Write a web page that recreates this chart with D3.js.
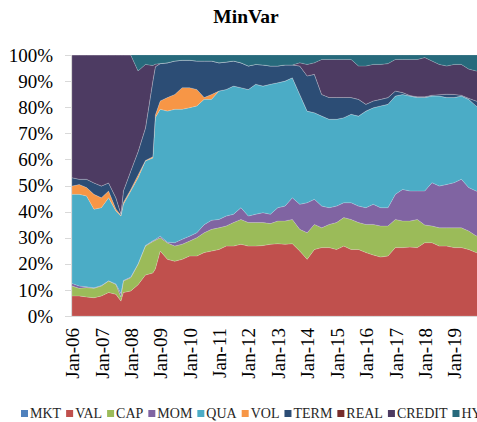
<!DOCTYPE html>
<html>
<head>
<meta charset="utf-8">
<script src="https://cdn.jsdelivr.net/npm/d3@7"></script>
<style>
  body { margin: 0; background: #fff; }
  svg { display: block; font-family: "Liberation Serif", "Times New Roman", serif; }
</style>
</head>
<body>
<div id="chart"></div>
<script>
// Data (quarterly readings, plus a few extra months at sharp moves)
const dates = [
    '2006-01','2006-04','2006-07','2006-10','2007-01','2007-04','2007-07','2007-09','2007-10',
    '2008-01','2008-04','2008-07','2008-10','2008-11','2009-01','2009-04','2009-07','2009-10',
    '2010-01','2010-04','2010-07','2010-10','2011-01','2011-04','2011-07','2011-10',
    '2012-01','2012-04','2012-07','2012-10','2013-01','2013-04','2013-07','2013-10',
    '2014-01','2014-04','2014-07','2014-10','2015-01','2015-04','2015-07','2015-10',
    '2016-01','2016-04','2016-07','2016-10','2017-01','2017-04','2017-07','2017-10',
    '2018-01','2018-04','2018-07','2018-10','2019-01','2019-04','2019-07','2019-10','2019-12'
];
const series_names = ['MKT', 'VAL', 'CAP', 'MOM', 'QUA', 'VOL', 'TERM', 'REAL', 'CREDIT', 'HY'];
const y_ticks = [0, 0.1, 0.2, 0.3, 0.4, 0.5, 0.6, 0.7, 0.8, 0.9, 1];
const x_tick_years = [2006, 2007, 2008, 2009, 2010, 2011, 2012, 2013, 2014, 2015, 2016, 2017, 2018, 2019];

const mkt = [0,0,0,0,0,0,0,0,0,0,0,0,0,0,0,0,0,0,0,0,0,0,0,0,0,0,0,0,0,0,
             0,0,0,0,0,0,0,0,0,0,0,0,0,0,0,0,0,0,0,0,0,0,0,0,0,0,0,0,0];
const val = [7.7,7.7,7.3,7.0,7.7,9.0,8.3,5.7,9.0,9.6,12.0,15.7,16.5,18.0,24.9,21.7,21.0,21.7,23.0,23.0,24.3,24.9,
             25.5,26.8,26.8,27.5,26.8,26.8,27.0,27.5,27.7,27.5,27.7,24.9,21.7,25.5,26.2,26.2,25.5,26.8,
             25.5,25.5,24.3,23.4,22.6,23.0,26.2,26.2,26.4,26.2,28.1,28.1,26.8,26.8,26.2,26.2,25.5,24.3,24.0];
const cap = [3.8,2.9,3.6,3.6,3.8,4.4,3.8,1.6,4.4,5.1,7.8,11.1,12.0,11.0,5.1,6.3,5.8,5.8,5.7,7.0,7.6,8.3,
             8.3,7.7,9.0,9.5,9.0,9.0,8.8,7.9,8.7,8.9,9.3,8.3,10.2,9.6,7.6,8.9,10.3,10.9,
             11.5,10.3,10.8,11.7,11.9,11.5,10.8,10.2,10.0,10.8,6.8,6.4,7.0,7.0,7.6,7.6,7.1,6.4,6.5];
const mom = [1.0,0.9,0.3,0.2,0.2,0.1,0.2,1.3,0.2,0.2,0.2,0.2,0.3,0.3,0.6,0.3,1.3,1.9,1.9,1.9,3.1,3.5,
             3.2,3.8,3.2,4.5,2.5,3.2,3.8,3.6,5.1,5.7,8.3,9.6,11.5,9.6,8.3,6.4,6.3,5.7,
             6.4,6.3,6.4,7.7,7.0,7.0,9.6,12.1,11.5,10.9,13.0,16.6,16.0,16.6,17.3,18.6,16.6,17.2,17.0];
const qua = [34.1,35.1,34.8,30.1,29.8,31.8,27.9,29.7,29.2,33.0,33.0,32.4,31.7,46.7,48.6,50.2,51.1,49.8,49.2,48.6,48.0,46.3,
             49.2,48.5,49.1,46.0,48.5,49.8,48.5,49.8,47.9,47.9,46.0,42.1,35.1,33.2,34.5,33.9,33.3,32.6,
             33.9,34.5,37.0,37.0,39.0,39.6,37.7,36.4,36.4,35.8,35.8,33.2,34.5,33.3,32.6,31.9,33.8,32.6,32.5];
const vol = [3.2,3.8,3.2,5.7,3.8,2.6,0.8,0.3,0.7,0.6,1.0,0.2,0.5,1.0,3.2,5.2,5.7,8.3,7.7,6.3,0.7,1.9,
             0,0,0,0,0,0,0,0,0,0,0,0,0,0,0,0,0,0,
             0,0,0,0,0,0,0,0,0,0,0,0,0,0,0,0,0,0,0];
const term = [3.2,2.0,3.2,4.4,4.5,3.1,4.3,0.6,4.4,7.1,9.0,12.4,29.0,18.5,14.3,13.3,12.8,10.5,10.5,10.9,14.0,12.8,
              10.8,10.5,9.6,9.5,9.0,7.6,8.1,7.0,6.4,6.2,4.9,10.9,13.5,14.7,8.3,8.3,8.3,7.7,
              6.4,6.4,2.6,2.6,2.5,2.6,1.9,0.7,0.2,0.3,0.3,0.3,0.5,1.3,1.2,0.3,0.4,1.9,2.0];
const real = [0,0,0,0,0,0,0,0,0,0,0,0,0,0,0,0,0,0,0,0,0,0,0,0,0,0,0,0,0,0,
              0,0,0,0,0,0,0,0,0,0,0,0,0,0,0,0,0,0,0,0,0,0,0,0,0,0,0,0,0];
const credit = [47.0,47.6,47.6,49.0,50.2,49.0,54.7,60.8,52.1,44.4,30.9,24.4,6.0,1.0,0,0,0,0,0,0,0,0,
                0,0,0,0,0,0,0,0,0,0,0,1.2,4.4,4.4,13.4,14.6,14.6,14.6,
                14.6,12.8,14.7,14.0,13.4,13.0,12.1,12.7,13.8,14.3,15.0,13.1,11.6,10.8,11.5,11.8,11.2,11.5,11.5];
const hy = [0,0,0,0,0,0,0,0,0,0,6.1,3.6,4.0,3.5,3.3,3.0,2.3,2.0,2.0,2.3,2.3,2.3,
            3.0,2.7,2.3,3.0,4.2,3.6,3.8,4.2,4.2,3.8,3.8,3.0,3.6,3.0,1.7,1.7,1.7,1.7,
            1.7,4.2,4.2,3.6,3.6,3.3,1.7,1.7,1.7,1.7,1.0,2.3,3.6,4.2,3.6,3.6,5.4,6.1,6.5];

const colors = ['#4F81BD', '#C0504D', '#9BBB59', '#8064A2', '#4BACC6', '#F79646',
                '#2C4D75', '#772C2A', '#4D3B62', '#276A7C'];

const parse = d3.timeParse('%Y-%m');
const columns = [mkt, val, cap, mom, qua, vol, term, real, credit, hy];
const rows = dates.map((d, i) => {
    const row = { date: parse(d) };
    series_names.forEach((k, j) => row[k] = columns[j][i]);
    return row;
});

const width = 477;
const height = 422;
const plot = { left: 72, right: 481, top: 55, bottom: 316 };

// Scales
const x_scale = d3.scaleTime()
    .domain([parse('2006-01'), parse('2019-12')])
    .range([plot.left, plot.right]);

const y_scale = d3.scaleLinear()
    .domain([0, 1])
    .range([plot.bottom, plot.top]);

// 100% stack
const stack = d3.stack()
    .keys(series_names)
    .offset(d3.stackOffsetExpand);
const stack_data = stack(rows);

const svg = d3.select('#chart')
    .append('svg')
    .attr('width', width)
    .attr('height', height);

// Title
svg.append('text')
    .attr('x', 246)
    .attr('y', 23)
    .attr('text-anchor', 'middle')
    .attr('font-size', 19.5)
    .attr('font-weight', 'bold')
    .text('MinVar');

// Areas
svg.append('clipPath').attr('id', 'clip')
    .append('rect')
    .attr('x', plot.left).attr('y', plot.top)
    .attr('width', width - plot.left).attr('height', plot.bottom - plot.top);

const area = d3.area()
    .x(d => x_scale(d.data.date))
    .y0(d => y_scale(d[0]))
    .y1(d => y_scale(d[1]));

svg.append('g')
    .attr('clip-path', 'url(#clip)')
    .selectAll('path')
    .data(stack_data)
    .enter()
    .append('path')
    .attr('fill', (d, i) => colors[i])
    .attr('stroke', 'rgba(255,255,255,0.25)')
    .attr('stroke-width', 0.6)
    .attr('d', area);

// Y axis
svg.append('line')
    .attr('x1', plot.left - 0.5).attr('x2', plot.left - 0.5)
    .attr('y1', plot.top).attr('y2', plot.bottom + 1)
    .attr('stroke', '#d9d9d9');

const y_axis = svg.append('g');
y_axis.selectAll('line')
    .data(y_ticks)
    .enter()
    .append('line')
    .attr('x1', plot.left - 7).attr('x2', plot.left - 1)
    .attr('y1', d => Math.round(y_scale(d)) + 0.5)
    .attr('y2', d => Math.round(y_scale(d)) + 0.5)
    .attr('stroke', '#d9d9d9');

y_axis.selectAll('text')
    .data(y_ticks)
    .enter()
    .append('text')
    .attr('x', 53)
    .attr('y', d => y_scale(d))
    .attr('dy', '0.35em')
    .attr('text-anchor', 'end')
    .attr('font-size', 19)
    .text(d => d3.format('.0%')(d));

// X axis
svg.append('line')
    .attr('x1', plot.left - 1).attr('x2', width)
    .attr('y1', plot.bottom + 0.5).attr('y2', plot.bottom + 0.5)
    .attr('stroke', '#d9d9d9');

svg.append('g')
    .selectAll('text')
    .data(x_tick_years)
    .enter()
    .append('text')
    .attr('transform', d => `translate(${x_scale(new Date(d, 0, 1)) + 0.5},328) rotate(-90)`)
    .attr('dy', '0.35em')
    .attr('text-anchor', 'end')
    .attr('font-size', 19)
    .text(d => d3.timeFormat('%b-%y')(new Date(d, 0, 1)));

// Legend (runs off the right edge, as in the original)
const legend = svg.append('g');
let lx = 21;
series_names.forEach((name, i) => {
    legend.append('rect')
        .attr('x', lx).attr('y', 410)
        .attr('width', 7).attr('height', 7)
        .attr('fill', colors[i]);
    const t = legend.append('text')
        .attr('x', lx + 9)
        .attr('y', 418)
        .attr('font-size', 14)
        .attr('fill', '#262626')
        .text(name);
    lx += 9 + t.node().getComputedTextLength() + 5;
});
</script>
</body>
</html>
